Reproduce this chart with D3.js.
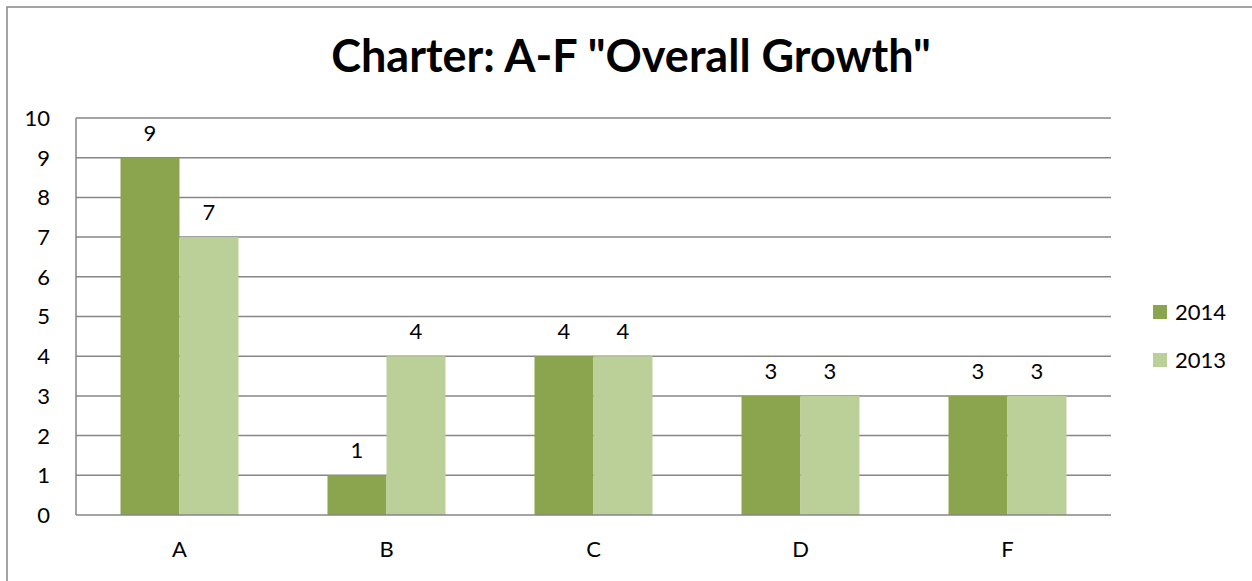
<!DOCTYPE html>
<html lang="en">
<head>
<meta charset="UTF-8">
<script src="https://cdn.jsdelivr.net/npm/d3@7"></script>
<title>Charter: A-F "Overall Growth"</title>
<style>
    body, html {
        margin: 0;
        padding: 0;
        background: #fff;
    }
    text {
        font-family: Lato, "Open Sans", sans-serif;
        fill: #000;
    }
</style>
</head>
<body>
<div id="chart"></div>
<script>
// data
const categories = ["A", "B", "C", "D", "F"]
const seriesNames = ["2014", "2013"]
const values2014 = [9, 1, 4, 3, 3]
const values2013 = [7, 4, 4, 3, 3]
const yTicks = [0, 1, 2, 3, 4, 5, 6, 7, 8, 9, 10]
const colors = ["#8aa54e", "#bbd098"]

const width = 1252, height = 581
const margin = {left: 76, right: 141, top: 118, bottom: 66}
const fontSize = 22

const svg = d3.select("#chart").append("svg")
    .attr("width", width).attr("height", height)

// chart border
svg.append("rect")
    .attr("x", 7).attr("y", 7).attr("width", width + 20).attr("height", height + 20)
    .attr("fill", "none").attr("stroke", "#868686").attr("stroke-width", 1.5)

const x = d3.scaleBand().domain(categories)
    .range([margin.left, width - margin.right])
    .paddingInner(0.43).paddingOuter(0.215)
const xs = d3.scaleBand().domain(seriesNames).range([0, x.bandwidth()])
const y = d3.scaleLinear().domain([0, 10]).range([height - margin.bottom, margin.top])

// gridlines
svg.append("g").selectAll("line").data(yTicks.slice(1)).enter().append("line")
    .attr("x1", margin.left).attr("x2", width - margin.right)
    .attr("y1", d => y(d)).attr("y2", d => y(d))
    .attr("stroke", "#868686").attr("stroke-width", 1.5)

// y axis labels
svg.append("g").selectAll("text").data(yTicks).enter().append("text")
    .attr("x", 50).attr("y", d => y(d)).attr("dy", "0.36em")
    .attr("text-anchor", "end").attr("font-size", fontSize)
    .text(d => d)

// bars
const rows = categories.map((c, i) => ({cat: c, vals: [values2014[i], values2013[i]]}))
const groups = svg.append("g").selectAll("g").data(rows).enter().append("g")
    .attr("transform", d => `translate(${x(d.cat)},0)`)
groups.selectAll("rect").data(d => d.vals.map((v, k) => ({name: seriesNames[k], v: v, k: k})))
    .enter().append("rect")
    .attr("x", d => xs(d.name)).attr("width", xs.bandwidth())
    .attr("y", d => y(d.v)).attr("height", d => y(0) - y(d.v))
    .attr("fill", d => colors[d.k])
groups.selectAll("text").data(d => d.vals.map((v, k) => ({name: seriesNames[k], v: v, k: k})))
    .enter().append("text")
    .attr("x", d => xs(d.name) + xs.bandwidth() / 2).attr("y", d => y(d.v) - 17)
    .attr("text-anchor", "middle").attr("font-size", fontSize)
    .text(d => d.v)

// x axis
svg.append("line")
    .attr("x1", margin.left).attr("x2", width - margin.right)
    .attr("y1", y(0)).attr("y2", y(0))
    .attr("stroke", "#868686").attr("stroke-width", 1.5)
svg.append("line")
    .attr("x1", margin.left).attr("x2", margin.left)
    .attr("y1", margin.top).attr("y2", y(0))
    .attr("stroke", "#868686").attr("stroke-width", 1.5)
svg.append("g").selectAll("text").data(categories).enter().append("text")
    .attr("x", d => x(d) + x.bandwidth() / 2).attr("y", 557)
    .attr("text-anchor", "middle").attr("font-size", fontSize)
    .text(d => d)

// title
svg.append("text")
    .attr("x", 631).attr("y", 72)
    .attr("text-anchor", "middle").attr("font-size", 45).attr("font-weight", "bold")
    .text('Charter: A-F "Overall Growth"')

// legend
const legend = svg.append("g").selectAll("g").data(seriesNames).enter().append("g")
    .attr("transform", (d, i) => `translate(1153,${312 + i * 48})`)
legend.append("rect")
    .attr("x", 0).attr("y", -7).attr("width", 14).attr("height", 14)
    .attr("fill", (d, i) => colors[i])
legend.append("text")
    .attr("x", 22).attr("y", 0).attr("dy", "0.36em").attr("font-size", fontSize)
    .text(d => d)
</script>
</body>
</html>
